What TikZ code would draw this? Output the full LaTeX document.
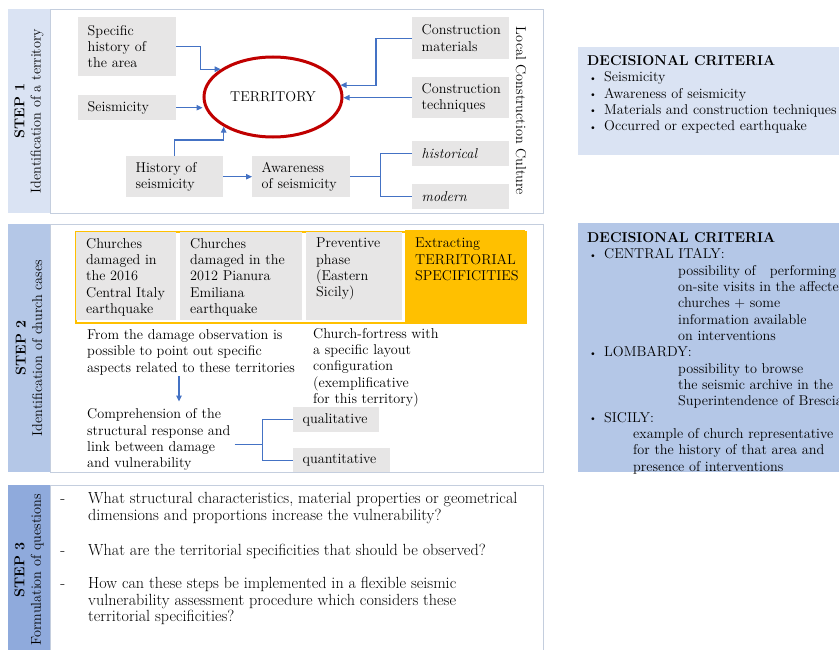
\documentclass[tikz,border=0pt]{standalone}
\usepackage{tikz}
\usetikzlibrary{arrows.meta,shapes.geometric,positioning,calc}
\definecolor{stepa}{RGB}{218,227,243}
\definecolor{stepb}{RGB}{180,199,231}
\definecolor{stepc}{RGB}{143,170,220}
\definecolor{framecol}{RGB}{196,206,222}
\definecolor{boxgray}{RGB}{231,230,230}
\definecolor{terrred}{RGB}{192,0,0}
\definecolor{arrblue}{RGB}{68,114,196}
\definecolor{gold}{RGB}{255,192,0}
\newcommand{\cellbox}[2]{\parbox[t][76bp][t]{#1}{\raggedright #2}}
\newcommand{\bul}{\makebox[17bp][l]{\hspace{2bp}\raisebox{0.5bp}{\fontsize{10}{10}\selectfont\textbullet}}}
\tikzset{
  stepframe/.style = { draw=framecol, line width=1bp, inner sep=0pt, anchor=north west },
  steplab/.style   = { rotate=90, inner sep=0pt, align=center, minimum height=42bp },
  gbox/.style      = { fill=boxgray, inner xsep=9.5bp, inner ysep=0pt, anchor=north west, align=left },
  cell/.style      = { inner xsep=10bp, inner ysep=6bp, anchor=north west },
  terr/.style      = { ellipse, draw=terrred, line width=3bp, minimum width=138bp, minimum height=80bp },
  arr/.style       = { draw=arrblue, line width=1.1bp, -{Triangle[length=6bp,width=5.5bp]} },
  ln/.style        = { draw=arrblue, line width=1.1bp },
  txt/.style       = { inner sep=0pt, anchor=north west, align=left },
  qtxt/.style      = { txt, font=\fontsize{16.2}{16.7}\selectfont },
  crit/.style      = { inner sep=0pt, anchor=north west, minimum width=265bp }
}
\begin{document}
\fontsize{14.3}{16.4}\selectfont
\begin{tikzpicture}[x=1bp,y=-1bp]
  \useasboundingbox (0,0) rectangle (839,650);
  % STEP 1
  \node[stepframe, minimum width=493bp, minimum height=204bp] (box1) at (50,9) {};
  \node[steplab, fill=stepa, minimum width=204bp] (lab1) at (29,111) {\textbf{STEP 1}\\Identification of a territory};
  \node[gbox, text width=79bp, minimum height=59bp] (spec) at (78,17) {Specific\\history of\\the area};
  \node[gbox, text width=79bp, minimum height=25bp] (seis) at (78,95) {Seismicity};
  \node[terr] (terr) at (273,97) {TERRITORY};
  \node[gbox, text width=78bp, minimum height=42bp] (mat) at (412,17) {Construction\\materials};
  \node[gbox, text width=78bp, minimum height=41bp] (tech) at (412,77) {Construction\\techniques};
  \node[gbox, text width=78bp, minimum height=41bp] (hseis) at (126,156) {History of\\seismicity};
  \node[gbox, text width=79bp, minimum height=41bp] (aware) at (252,156) {Awareness\\of seismicity};
  \node[gbox, text width=78bp, minimum height=25bp] (histo) at (412,141) {\itshape historical};
  \node[gbox, text width=78bp, minimum height=25bp] (modern) at (412,184) {\itshape modern};
  \node[inner sep=0pt, rotate=-90] (lcc) at (521,111) {Local Construction Culture};
  \draw[arr] (spec.east) -- ++(24,0) |- (terr.152);
  \draw[arr] (seis.east) -- (seis.east -| terr.west);
  \draw[arr] (hseis.north) -- ++(0,-16) -| (terr.211);
  \draw[arr] (hseis) -- (aware);
  \draw[arr] (mat.west) -- ++(-36,0) |- (terr.10);
  \draw[arr] (tech.west) -- (tech.west -| terr.east);
  \draw[ln] (aware.east) -- ++(30,0) coordinate (fork1);
  \draw[ln] (histo.west) -| (fork1) |- (modern.west);
  % STEP 2
  \node[stepframe, minimum width=493bp, minimum height=248bp] (box2) at (50,224) {};
  \node[steplab, fill=stepb, minimum width=248bp] (lab2) at (29,348) {\textbf{STEP 2}\\Identification of church cases};
  \node[draw=gold, line width=2bp, inner sep=0pt, anchor=north west, minimum width=450bp, minimum height=91bp] (cases) at (74.5,230.5) {};
  \node[cell, fill=boxgray] (c1) at (76,232) {\cellbox{80bp}{Churches\\damaged in\\the 2016\\Central Italy\\earthquake}};
  \node[cell, fill=boxgray] (c2) at (180,232) {\cellbox{102bp}{Churches\\damaged in the\\2012 Pianura\\Emiliana\\earthquake}};
  \node[cell, fill=boxgray] (c3) at (306,232) {\cellbox{76bp}{Preventive\\phase\\(Eastern\\Sicily)}};
  \node[cell, fill=gold, inner ysep=8bp] (c4) at (405,230) {\cellbox{100bp}{Extracting\\TERRITORIAL\\SPECIFICITIES}};
  \node[txt] (obs) at (87,329.5) {From the damage observation is\\possible to point out specific\\aspects related to these territories};
  \node[txt] (fort) at (313,328) {Church-fortress with\\a specific layout\\configuration\\(exemplificative\\for this territory)};
  \node[txt] (comp) at (87,408.5) {Comprehension of the\\structural response and\\link between damage\\and vulnerability};
  \node[gbox, text width=67bp, minimum height=25bp] (qual) at (293,407) {qualitative};
  \node[gbox, text width=78bp, minimum height=24bp] (quant) at (293,448) {quantitative};
  \draw[arr] ([xshift=92bp,yshift=-1bp]obs.south west) -- ([xshift=92bp,yshift=7bp]comp.north west);
  \draw[ln] ([xshift=4bp,yshift=-5bp]comp.east) -- ++(28,0) coordinate (fork2);
  \draw[ln] (qual.west) -| (fork2) |- (quant.west);
  % STEP 3
  \node[stepframe, minimum width=493bp, minimum height=170bp] (box3) at (50,485) {};
  \node[steplab, fill=stepc, minimum width=170bp] (lab3) at (29,570) {\textbf{STEP 3}\\Formulation of questions};
  \node[qtxt] (q1) at (88,492.1) {\llap{-\hspace{23bp}}What structural characteristics, material properties or geometrical\\dimensions and proportions increase the vulnerability?};
  \node[qtxt] (q2) at (88,543.8) {\llap{-\hspace{23bp}}What are the territorial specificities that should be observed?};
  \node[qtxt] (q3) at (88,577.1) {\llap{-\hspace{23bp}}How can these steps be implemented in a flexible seismic\\vulnerability assessment procedure which considers these\\territorial specificities?};
  % decisional criteria
  \node[crit, fill=stepa, minimum height=108bp] (crit1) at (578,47) {};
  \node[txt] (crit1t) at (587,55.2) {\textbf{DECISIONAL CRITERIA}\\\bul Seismicity\\\bul Awareness of seismicity\\\bul Materials and construction techniques\\\bul Occurred or expected earthquake};
  \node[crit, fill=stepb, minimum height=249bp] (crit2) at (578,223) {};
  \node[txt] (crit2t) at (587,232.2) {\textbf{DECISIONAL CRITERIA}\\
    \bul CENTRAL ITALY:\\
    \hspace*{91bp}possibility of \ \ performing\\
    \hspace*{91bp}on-site visits in the affected\\
    \hspace*{91bp}churches + some\\
    \hspace*{91bp}information available\\
    \hspace*{91bp}on interventions\\
    \bul LOMBARDY:\\
    \hspace*{91bp}possibility to browse\\
    \hspace*{91bp}the seismic archive in the\\
    \hspace*{91bp}Superintendence of Brescia\\
    \bul SICILY:\\
    \hspace*{46bp}example of church representative\\
    \hspace*{46bp}for the history of that area and\\
    \hspace*{46bp}presence of interventions};
\end{tikzpicture}
\end{document}
